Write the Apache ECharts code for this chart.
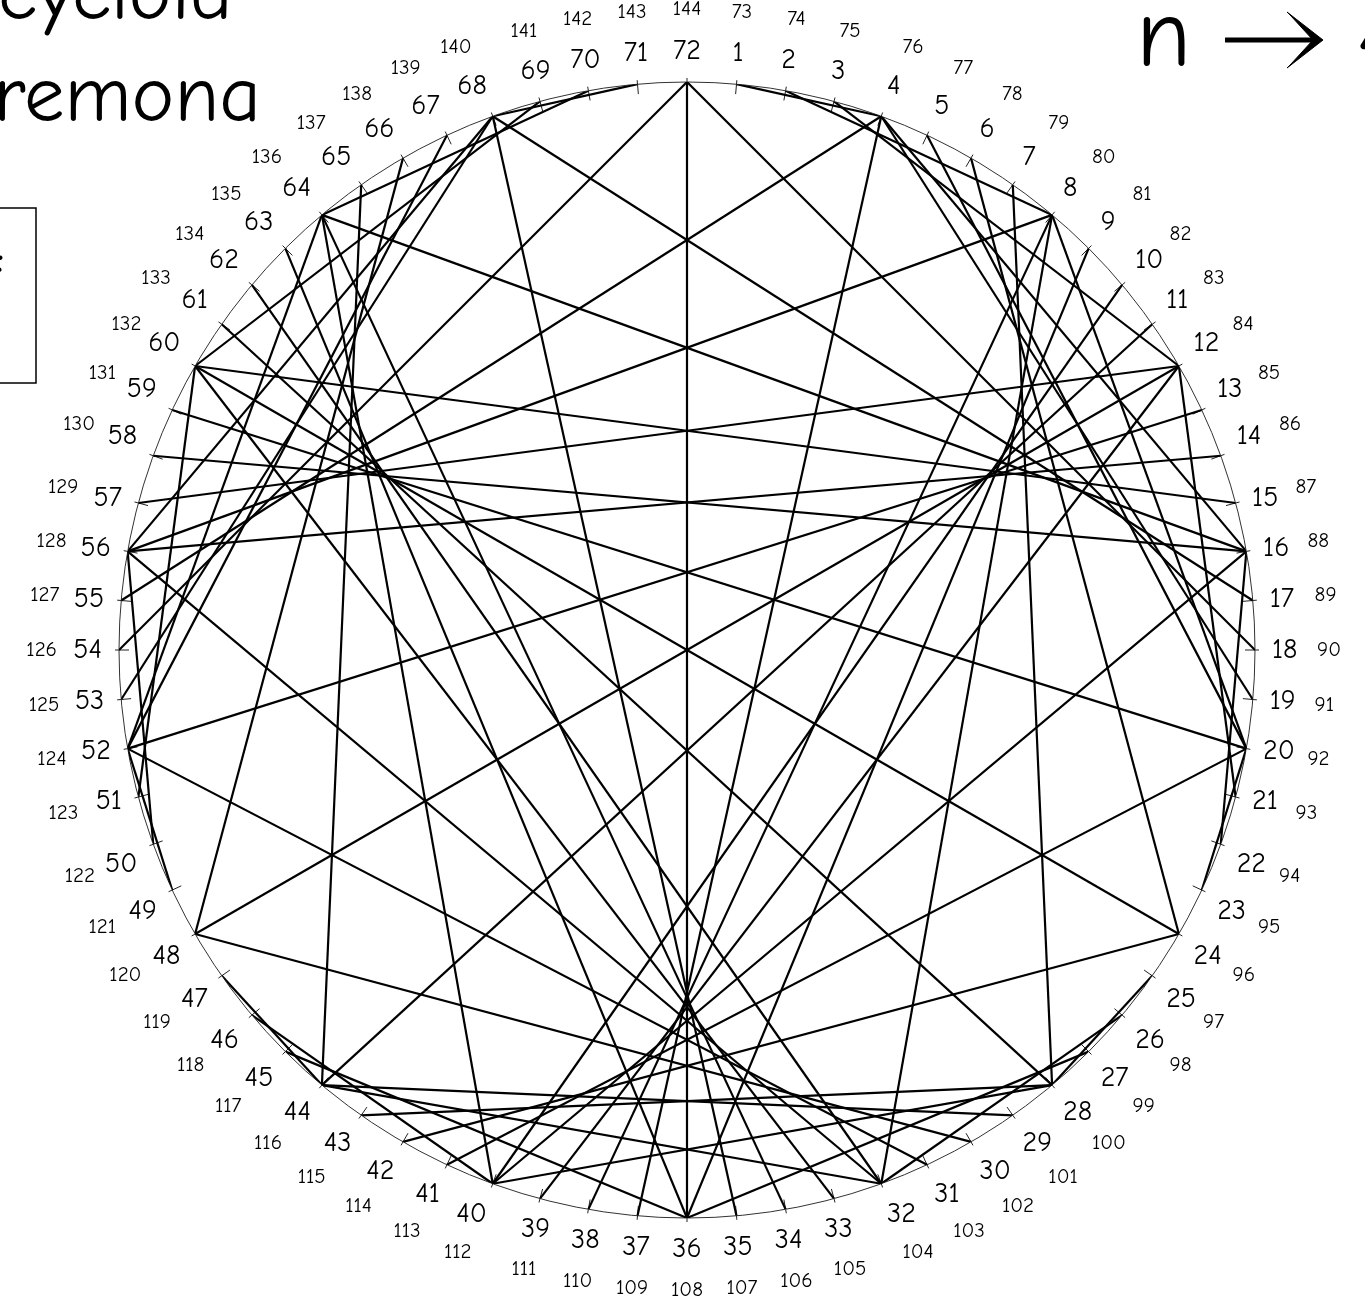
<!DOCTYPE html>
<html>
<head>
<meta charset="utf-8">
<script src="https://cdn.jsdelivr.net/npm/echarts@6/dist/echarts.min.js"></script>
<style>
  html, body { margin: 0; padding: 0; background: #fff; }
  #chart { width: 1365px; height: 1307px; }
</style>
</head>
<body>
<div id="chart"></div>
<script>
(function () {
    'use strict';

    // points on the circle, 72 at the top, going clockwise
    var pointCount = 72;
    var innerLabels = ['72', '1', '2', '3', '4', '5', '6', '7', '8', '9', '10', '11', '12', '13', '14', '15', '16', '17',
        '18', '19', '20', '21', '22', '23', '24', '25', '26', '27', '28', '29', '30', '31', '32', '33', '34', '35',
        '36', '37', '38', '39', '40', '41', '42', '43', '44', '45', '46', '47', '48', '49', '50', '51', '52', '53',
        '54', '55', '56', '57', '58', '59', '60', '61', '62', '63', '64', '65', '66', '67', '68', '69', '70', '71'];
    var outerLabels = ['144', '73', '74', '75', '76', '77', '78', '79', '80', '81', '82', '83', '84', '85', '86', '87', '88', '89',
        '90', '91', '92', '93', '94', '95', '96', '97', '98', '99', '100', '101', '102', '103', '104', '105', '106', '107',
        '108', '109', '110', '111', '112', '113', '114', '115', '116', '117', '118', '119', '120', '121', '122', '123', '124', '125',
        '126', '127', '128', '129', '130', '131', '132', '133', '134', '135', '136', '137', '138', '139', '140', '141', '142', '143'];

    // chords n -> 4n (mod 72)
    var chordFrom = [1, 2, 3, 4, 5, 6, 7, 8, 9, 10, 11, 12, 13, 14, 15, 16, 17, 18,
        19, 20, 21, 22, 23, 24, 25, 26, 27, 28, 29, 30, 31, 32, 33, 34, 35, 36,
        37, 38, 39, 40, 41, 42, 43, 44, 45, 46, 47, 48, 49, 50, 51, 52, 53, 54,
        55, 56, 57, 58, 59, 60, 61, 62, 63, 64, 65, 66, 67, 68, 69, 70, 71, 72];
    var chordTo = [4, 8, 12, 16, 20, 24, 28, 32, 36, 40, 44, 48, 52, 56, 60, 64, 68, 72,
        4, 8, 12, 16, 20, 24, 28, 32, 36, 40, 44, 48, 52, 56, 60, 64, 68, 72,
        4, 8, 12, 16, 20, 24, 28, 32, 36, 40, 44, 48, 52, 56, 60, 64, 68, 72,
        4, 8, 12, 16, 20, 24, 28, 32, 36, 40, 44, 48, 52, 56, 60, 64, 68, 72];

    var font = '"Comic Sans MS", "Comic Neue", "Noto Sans", sans-serif';
    var center = [687, 650];
    var radius = 568;

    var chordSeries = [];
    for (var i = 0; i < chordFrom.length; i++) {
        if (chordFrom[i] % pointCount === chordTo[i] % pointCount) continue;
        chordSeries.push({
            type: 'line',
            coordinateSystem: 'polar',
            polarIndex: 0,
            symbol: 'none',
            silent: true,
            lineStyle: { color: '#000', width: 2.2 },
            data: [[1, chordFrom[i] % pointCount], [1, chordTo[i] % pointCount]]
        });
    }

    function labelOf(list) {
        return function (v) {
            return list[Math.round(v) % pointCount];
        };
    }

    var chart = echarts.init(document.getElementById('chart'), null, { renderer: 'canvas' });
    var option = {
        animation: false,
        backgroundColor: '#fff',
        polar: [
            { center: center, radius: radius },
            { center: center, radius: radius }
        ],
        radiusAxis: [
            { polarIndex: 0, type: 'value', min: 0, max: 1, show: false },
            { polarIndex: 1, type: 'value', min: 0, max: 1, show: false }
        ],
        angleAxis: [
            {
                polarIndex: 0,
                type: 'value',
                min: 0,
                max: pointCount,
                interval: 1,
                startAngle: 90,
                clockwise: true,
                axisLine: { show: true, lineStyle: { color: '#333', width: 1 } },
                axisTick: { show: true, inside: true, length: 10, lineStyle: { color: '#222', width: 1 } },
                splitLine: { show: false },
                axisLabel: {
                    margin: 17,
                    fontSize: 28,
                    fontFamily: font,
                    color: '#000',
                    formatter: labelOf(innerLabels)
                }
            },
            {
                polarIndex: 1,
                type: 'value',
                min: 0,
                max: pointCount,
                interval: 1,
                startAngle: 90,
                clockwise: true,
                axisLine: { show: false },
                axisTick: { show: true, inside: false, length: 4, lineStyle: { color: '#222', width: 1 } },
                splitLine: { show: false },
                axisLabel: {
                    margin: 62,
                    fontSize: 21,
                    fontFamily: font,
                    color: '#000',
                    formatter: labelOf(outerLabels)
                }
            }
        ],
        graphic: [
            {
                type: 'text',
                style: { x: 233, y: -4, text: 'Epicycloid', textAlign: 'right', textVerticalAlign: 'middle',
                    font: '81px ' + font, fill: '#000' }
            },
            {
                type: 'text',
                style: { x: 261, y: 98, text: 'Cremona', textAlign: 'right', textVerticalAlign: 'middle',
                    font: '81px ' + font, fill: '#000' }
            },
            {
                type: 'text',
                style: { x: 1136, y: 38, text: 'n', textAlign: 'left', textVerticalAlign: 'middle',
                    font: '100px ' + font, fill: '#000' }
            },
            {
                type: 'line',
                shape: { x1: 1225, y1: 40, x2: 1314, y2: 40 },
                style: { stroke: '#000', lineWidth: 5 }
            },
            {
                type: 'polygon',
                shape: { points: [[1287, 12], [1323, 40], [1287, 68], [1291, 64], [1313, 40], [1291, 16]] },
                style: { fill: '#000', stroke: '#000', lineWidth: 1 }
            },
            {
                type: 'text',
                style: { x: 1357, y: 38, text: '4n', textAlign: 'left', textVerticalAlign: 'middle',
                    font: '100px ' + font, fill: '#000' }
            },
            {
                type: 'rect',
                shape: { x: -200, y: 208, width: 236, height: 175 },
                style: { fill: 'none', stroke: '#000', lineWidth: 1.5 }
            },
            {
                type: 'text',
                style: { x: 4, y: 262, text: ':', textAlign: 'right', textVerticalAlign: 'middle',
                    font: 'bold 36px ' + font, fill: '#000' }
            }
        ],
        series: chordSeries
    };
    chart.setOption(option);
})();
</script>
</body>
</html>
